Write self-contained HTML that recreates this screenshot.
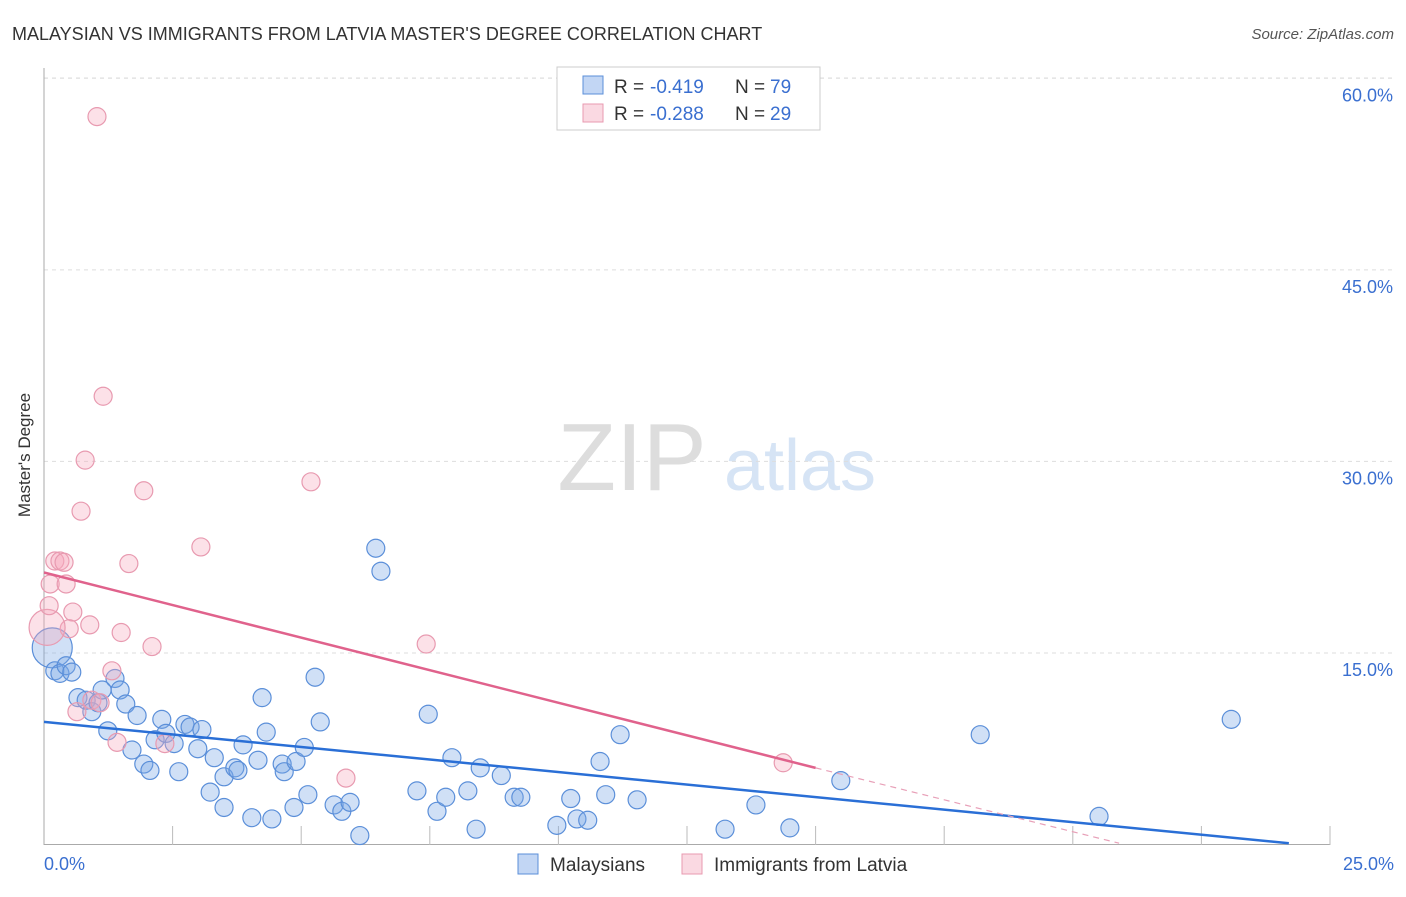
<!DOCTYPE html>
<html><head><meta charset="utf-8"><style>
body{margin:0;background:#fff;font-family:"Liberation Sans",sans-serif}
svg text{font-family:"Liberation Sans",sans-serif}
</style></head><body>
<svg id="c" width="1406" height="892">
<text x="12" y="40" font-size="18" fill="#333">MALAYSIAN VS IMMIGRANTS FROM LATVIA MASTER'S DEGREE CORRELATION CHART</text>
<text x="1394" y="39" font-size="15" fill="#555" text-anchor="end" font-style="italic">Source: ZipAtlas.com</text>
<text x="30" y="455" font-size="17" fill="#333" text-anchor="middle" transform="rotate(-90 30 455)">Master's Degree</text>
<g><text x="632" y="490" font-size="96" fill="#ddd" text-anchor="middle" font-family="Liberation Serif">ZIP</text><text x="800" y="490" font-size="72" fill="#d6e4f5" text-anchor="middle">atlas</text></g>
<g id="grid"></g><g id="marks"></g>
<g>
<rect x="557" y="67" width="263" height="63" fill="#fff" stroke="#ccc"/>
<rect x="583" y="76" width="20" height="18" fill="rgba(120,165,230,0.45)" stroke="#5b8fd9"/>
<rect x="583" y="104" width="20" height="18" fill="rgba(245,170,190,0.45)" stroke="#e89ab0"/>
<text x="614" y="93" font-size="19" fill="#333">R =</text>
<text x="650" y="93" font-size="19" fill="#3a6fd0">-0.419</text>
<text x="735" y="93" font-size="19" fill="#333">N =</text>
<text x="770" y="93" font-size="19" fill="#3a6fd0">79</text>
<text x="614" y="120" font-size="19" fill="#333">R =</text>
<text x="650" y="120" font-size="19" fill="#3a6fd0">-0.288</text>
<text x="735" y="120" font-size="19" fill="#333">N =</text>
<text x="770" y="120" font-size="19" fill="#3a6fd0">29</text>
</g>
<g>
<rect x="518" y="854" width="20" height="20" fill="rgba(120,165,230,0.45)" stroke="#5b8fd9"/>
<text x="550" y="871" font-size="19" fill="#333">Malaysians</text>
<rect x="682" y="854" width="20" height="20" fill="rgba(245,170,190,0.45)" stroke="#e89ab0"/>
<text x="714" y="871" font-size="19" fill="#333">Immigrants from Latvia</text>
</g>
</svg>
<script>
const yTicks=[15,30,45,60];
const yTickLabels=["15.0%","30.0%","45.0%","60.0%"];
const xTicks=[2.5,5,7.5,10,12.5,15,17.5,20,22.5,25];
const blue=[[0.16,15.4],[0.21,13.6],[0.31,13.4],[0.43,14.0],[0.54,13.5],[0.66,11.5],[0.82,11.3],[0.93,10.4],[1.05,11.1],[1.13,12.1],[1.38,13.0],[1.48,12.1],[1.24,8.9],[1.59,11.0],[1.71,7.4],[1.81,10.1],[1.94,6.3],[2.06,5.8],[2.16,8.2],[2.29,9.8],[2.37,8.7],[2.53,7.9],[2.62,5.7],[2.74,9.4],[2.84,9.2],[2.99,7.5],[3.07,9.0],[3.23,4.1],[3.31,6.8],[3.50,5.3],[3.50,2.9],[3.71,6.0],[3.77,5.8],[3.87,7.8],[4.04,2.1],[4.16,6.6],[4.24,11.5],[4.32,8.8],[4.43,2.0],[4.63,6.3],[4.67,5.7],[4.86,2.9],[4.90,6.5],[5.06,7.6],[5.13,3.9],[5.27,13.1],[5.37,9.6],[5.64,3.1],[5.79,2.6],[5.95,3.3],[6.14,0.7],[6.45,23.2],[6.55,21.4],[7.25,4.2],[7.47,10.2],[7.64,2.6],[7.81,3.7],[7.93,6.8],[8.24,4.2],[8.40,1.2],[8.48,6.0],[8.89,5.4],[9.14,3.7],[9.27,3.7],[9.97,1.5],[10.24,3.6],[10.36,2.0],[10.57,1.9],[10.81,6.5],[10.92,3.9],[11.20,8.6],[11.53,3.5],[13.24,1.2],[13.84,3.1],[14.50,1.3],[15.49,5.0],[18.20,8.6],[20.51,2.2],[23.08,9.8]];
const pink=[[1.03,57.0],[1.15,35.1],[0.80,30.1],[1.94,27.7],[5.19,28.4],[0.72,26.1],[3.05,23.3],[0.21,22.2],[0.31,22.2],[0.39,22.1],[1.65,22.0],[0.12,20.4],[0.43,20.4],[0.56,18.2],[0.49,16.9],[0.89,17.2],[1.50,16.6],[2.10,15.5],[7.43,15.7],[0.06,17.0],[1.32,13.6],[0.93,11.3],[1.09,11.1],[0.64,10.4],[1.42,8.0],[2.35,7.9],[5.87,5.2],[14.37,6.4],[0.10,18.7]];
const blueLine=[[0,9.6],[24.2,0.1]];
const pinkLine=[[0,21.3],[15.0,6.0]];
const pinkDash=[[15.0,6.0],[20.9,0.1]];
const X=v=>44+v*51.44, Y=v=>844.5-v*12.77;
const NS="http://www.w3.org/2000/svg";
function mk(t,a,p){const e=document.createElementNS(NS,t);for(const k in a)e.setAttribute(k,a[k]);p.appendChild(e);return e;}
const g=document.getElementById('grid'), m=document.getElementById('marks');
yTicks.forEach((v,i)=>{
 const l=mk('line',{x1:44,x2:1394,y1:Y(v),y2:Y(v),stroke:'#ddd','stroke-dasharray':'4,4'},g);
 
 
 const t=mk('text',{x:1393,y:Y(v)+23,'font-size':18,fill:'#3a6fd0','text-anchor':'end'},g);t.textContent=yTickLabels[i];
 
 
});
const topGrid=mk('line',{x1:44,x2:1394,y1:78,y2:78,stroke:'#ddd','stroke-dasharray':'4,4'},g);


const ax=mk('line',{x1:44,x2:44,y1:68,y2:845,stroke:'#aaa'},g);


const bx=mk('line',{x1:44,x2:1330,y1:844.5,y2:844.5,stroke:'#aaa'},g);


xTicks.forEach(v=>{const t=mk('line',{x1:X(v),x2:X(v),y1:826,y2:845,stroke:'#bbb'},g);
 
 });
const x0=mk('text',{x:44,y:870,'font-size':18,fill:'#3a6fd0'},g);x0.textContent='0.0%';


const x1=mk('text',{x:1394,y:870,'font-size':18,fill:'#3a6fd0','text-anchor':'end'},g);x1.textContent='25.0%';


blue.forEach((d,i)=>{const c=mk('circle',{cx:X(d[0]),cy:Y(d[1]),r:i==0?20:9,fill:'rgba(120,165,230,0.35)',stroke:'#5b8fd9','stroke-width':1.2},m);
 
 });
pink.forEach((d,i)=>{const c=mk('circle',{cx:X(d[0]),cy:Y(d[1]),r:i==19?18:9,fill:'rgba(245,170,190,0.35)',stroke:'#e89ab0','stroke-width':1.2},m);
 
 });
function ln(a,col,w,dash,name){const l=mk('line',{x1:X(a[0][0]),y1:Y(a[0][1]),x2:X(a[1][0]),y2:Y(a[1][1]),stroke:col,'stroke-width':w},m);if(dash)l.setAttribute('stroke-dasharray',dash);
 
 }
ln(blueLine,'#2a6fd6',2.5,null,'malaysian-trendline');
ln(pinkLine,'#e0628c',2.5,null,'latvia-trendline');
ln(pinkDash,'#e8a0b8',1.2,'6,5','latvia-trendline-extension');
</script>
</body></html>
